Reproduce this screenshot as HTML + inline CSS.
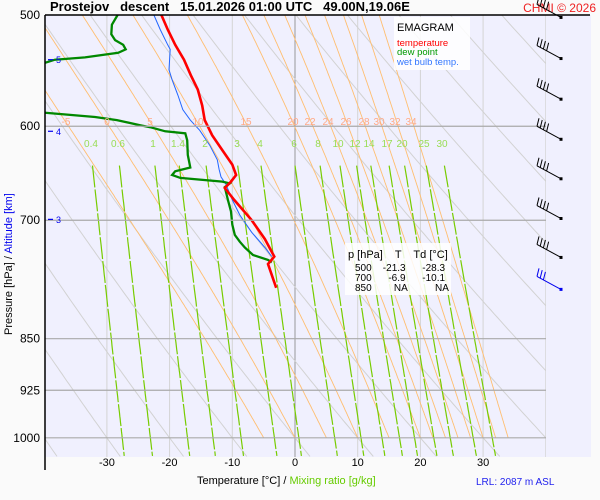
<!DOCTYPE html>
<html><head><meta charset="utf-8"><style>
body{margin:0;background:#fafafa;}
svg{display:block;font-family:"Liberation Sans",sans-serif;}
</style></head><body>
<svg id="c" width="600" height="500" viewBox="0 0 600 500">
<defs><clipPath id="pc"><rect x="45" y="15" width="501" height="442"/></clipPath></defs>
<rect x="0" y="0" width="600" height="500" fill="#fafafa"/>
<rect x="45" y="15" width="546" height="442" fill="#f0f0fe"/>
<g id="grid" clip-path="url(#pc)"></g>
<g id="series" clip-path="url(#pc)"></g>
<g id="axes"></g>
<line x1="45" y1="15" x2="45" y2="470" stroke="#000" stroke-width="1.5"/>
<line x1="45" y1="15" x2="590" y2="15" stroke="#000" stroke-width="1.5"/>
<text x="50" y="11" font-size="13" font-weight="bold" xml:space="preserve">Prostejov   descent   15.01.2026 01:00 UTC   49.00N,19.06E</text>
<text x="596" y="12" font-size="12" fill="#ee2222" text-anchor="end">CHMI © 2026</text>
<g>
<rect x="394" y="17" width="76" height="53" fill="#fff" opacity="0.85"/>
<text x="397" y="31" font-size="11">EMAGRAM</text>
<text x="397" y="46" font-size="9.5" fill="#ff0000">temperature</text>
<text x="397" y="55" font-size="9.5" fill="#009900">dew point</text>
<text x="397" y="65" font-size="9.5" fill="#3377ff">wet bulb temp.</text>
</g>
<g font-size="10">
<rect x="345" y="243" width="106" height="52" fill="#fff" opacity="0.85"/>
<text x="348" y="258" font-size="11" xml:space="preserve">p [hPa]    T    Td [°C]</text>
<text x="355" y="271" xml:space="preserve">500    -21.3      -28.3</text>
<text x="355" y="281" xml:space="preserve">700      -6.9      -10.1</text>
<text x="355" y="291" xml:space="preserve">850        NA          NA</text>
</g>
<text transform="translate(12,335) rotate(-90)" font-size="11">Pressure [hPa]  /  <tspan fill="#0000ee">Altitude [km]</tspan></text>
<text x="197" y="484" font-size="11">Temperature [°C]  /  <tspan fill="#66cc00">Mixing ratio [g/kg]</tspan></text>
<text x="476" y="485" font-size="10" fill="#2222ee">LRL: 2087 m ASL</text>
<g id="winds"></g>
</svg>
<script>
const tempP=[500,512,525,538,552,565,580,594,609,624,639,650,657,664,677,700,722,743,752,782];
const tempT=[-21.3,-20.3,-19.1,-17.7,-16.6,-15.5,-14.8,-14.4,-13.2,-11.6,-10.0,-9.4,-10.2,-11.2,-9.7,-6.9,-4.8,-3.3,-4.3,-3.0];
const dewP=[500,508,516,521,525,529,532,536,538,555,575,585,587,591,594,599,601,605,607,614,629,642,646,650,653,657,659,663,677,690,705,717,725,732,741,747,750];
const dewT=[-28.3,-29.2,-29.3,-28.7,-27.4,-27.0,-28.2,-33.5,-38.3,-48,-50,-44,-39.6,-31.9,-28.4,-24.7,-23.1,-20.7,-17.5,-17.2,-17.1,-16.7,-19.1,-19.6,-18.3,-11.6,-10.4,-11.2,-10.7,-10.2,-10.0,-9.6,-8.8,-8.0,-6.7,-4.3,-3.7];
const wetP=[500,512,525,529,547,556,570,584,594,604,619,634,644,652,660,677,694,714,732,743];
const wetT=[-22.5,-21.5,-20.3,-19.9,-20.1,-19.6,-18.7,-17.9,-16.7,-15.2,-13.6,-12.4,-12.1,-11.8,-11.0,-10.0,-8.8,-6.9,-4.8,-3.7];
const pTicks=[500,600,700,850,925,1000];
const tTicks=[-30,-20,-10,0,10,20,30];
const mixVals=[0.4,0.6,1,1.4,2,3,4,6,8,10,12,14,17,20,25,30];
const mixLabelX=[91,118,153,178,205,237,260,294,318,338,355,369,387,402,424,442];
const moistVals=[-5,0,5,10,15,20,22,24,26,28,30,32,34];
const moistLabelX=[66,107,150,198,246,293,310,328,346,364,379,395,411];
const dryVals=[-40,-30,-20,-10,0,10,20,30,40,50,60,70,80,90,100];
const altKm=[5,4,3];
const altP=[538,605,699];
const windP=[502,537,574,613,654,698,744,784];

const NS='http://www.w3.org/2000/svg';
const X=t=>295+6.27*t;
const Y=p=>15+610*Math.log(p/500);
function mk(tag,attrs,parent){const e=document.createElementNS(NS,tag);for(const k in attrs)e.setAttribute(k,attrs[k]);parent.appendChild(e);return e;}
const grid=document.getElementById('grid'),ser=document.getElementById('series'),axes=document.getElementById('axes'),winds=document.getElementById('winds');
function pathOf(ps,ts){return ps.map((p,i)=>(i?'L':'M')+X(ts[i]).toFixed(1)+' '+Y(p).toFixed(1)).join(' ');}

for(let t=-40;t<=40;t+=10){
  const l=mk('line',{x1:X(t),y1:15,x2:X(t),y2:457,stroke:t===0?'#999':'#d4d4d4','stroke-width':1},grid);
  
  
}
dryVals.forEach(th=>{
  const ps=[],ts=[];
  for(let p=1031;p>=495;p-=5){ps.push(p);ts.push((th+273.15)*Math.pow(p/1000,0.2857)-273.15);}
  const e=mk('path',{d:pathOf(ps,ts),fill:'none',stroke:'#d2d2d2','stroke-width':1},grid);
  
  
});
function es(t){return 6.112*Math.exp(17.67*t/(t+243.5));}
moistVals.forEach(tw=>{
  let T=tw+273.15;const ps=[],ts=[];
  for(let p=1000;p>=495;p-=2){
    ps.push(p);ts.push(T-273.15);
    const rs=0.622*es(T-273.15)/(p-es(T-273.15));
    const L=2.5e6,Rd=287,cp=1005;
    const dTdp=(1/p)*(Rd*T+L*rs)/(cp+L*L*rs*0.622/(Rd*T*T));
    T-=dTdp*2;
  }
  const e=mk('path',{d:pathOf(ps,ts),fill:'none',stroke:'#ffbe70','stroke-width':0.9},grid);
  
  
});
mixVals.forEach(w=>{
  const ps=[],ts=[];
  for(let p=640;p<=1031;p+=5){const e=w*p/(622+w);const a=Math.log(e/6.112);ps.push(p);ts.push(a*243.12/(17.62-a));}
  const e=mk('path',{d:pathOf(ps,ts),fill:'none',stroke:'#77cc00','stroke-width':1.2,'stroke-dasharray':'22,2'},grid);
  
  
});
pTicks.slice(1).forEach(p=>{
  const l=mk('line',{x1:45,y1:Y(p),x2:546,y2:Y(p),stroke:'#aaaaaa','stroke-width':1.2},axes);
  
  
});
pTicks.forEach(p=>{
  const t=mk('text',{x:40,y:Y(p)+4,'font-size':12,'text-anchor':'end'},axes);t.textContent=p;
  
  
});
tTicks.forEach(v=>{
  const t=mk('text',{x:X(v),y:466,'font-size':11,'text-anchor':'middle'},axes);t.textContent=v;
  
  
});
mixVals.forEach((v,i)=>{
  const t=mk('text',{x:mixLabelX[i],y:147,'font-size':10,fill:'#99dd55','text-anchor':'middle'},axes);t.textContent=v;
  
  
});
moistVals.forEach((v,i)=>{
  const t=mk('text',{x:moistLabelX[i],y:125,'font-size':10,fill:'#ffaa88','text-anchor':'middle'},axes);t.textContent=v;
  
  
});
altKm.forEach((k,i)=>{
  const y=Y(altP[i]);
  const l=mk('line',{x1:48,y1:y,x2:53,y2:y,stroke:'#0000ee','stroke-width':1.2},axes);
  
  
  const t=mk('text',{x:56,y:y+3.5,'font-size':9,fill:'#0000ee'},axes);t.textContent=k;
  
  
});
const sw=mk('path',{d:pathOf(wetP,wetT),fill:'none',stroke:'#2266ff','stroke-width':1},ser);


const sd=mk('path',{d:pathOf(dewP,dewT),fill:'none',stroke:'#008800','stroke-width':2.3},ser);


const st=mk('path',{d:pathOf(tempP,tempT),fill:'none',stroke:'#ff0000','stroke-width':2.6},ser);


windP.forEach((p,i)=>{
  const y=Y(p),x=561,col=i===windP.length-1?'#0000ee':'#000';
  const g=mk('g',{stroke:col,'stroke-width':1,fill:'none'},winds);
  
  
  mk('line',{x1:x,y1:y,x2:x-24,y2:y-13},g);
  mk('rect',{x:x-1.5,y:y-1.5,width:3,height:3,fill:col,stroke:'none'},g);
  const n=i===windP.length-1?3:4;
  for(let k=0;k<n;k++){const bx=x-24+k*3.2,by=y-13+k*1.75;mk('line',{x1:bx,y1:by,x2:bx+2,y2:by-8},g);}
});
</script>
</body></html>
